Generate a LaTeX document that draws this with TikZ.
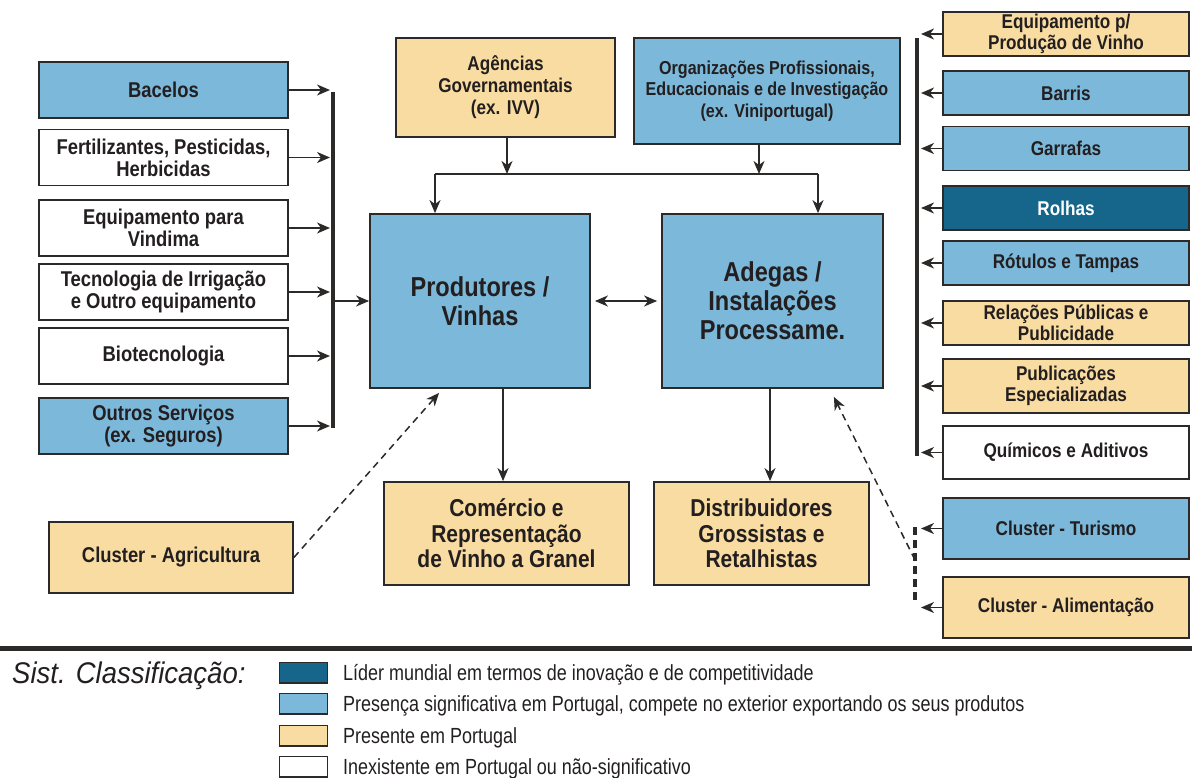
\documentclass[tikz,border=0pt]{standalone}
\usepackage{fontspec}
\setmainfont{Liberation Sans}[FakeStretch=0.86]
\newfontfamily\keyfont{Liberation Sans}[FakeStretch=0.82]
\newfontfamily\titlefont{Liberation Sans}[FakeStretch=0.92]
\usetikzlibrary{arrows.meta}

\definecolor{cLeader}{HTML}{15668A}
\definecolor{cStrong}{HTML}{7BB8DA}
\definecolor{cPresent}{HTML}{F9DCA1}
\definecolor{cEdge}{HTML}{2B2A29}
\definecolor{cInk}{HTML}{231F20}

\begin{document}
\begin{tikzpicture}[x=1bp, y=-1bp,
  >={Stealth[length=13bp,width=11bp,inset=4bp]},
  box/.style = {rectangle, draw=cEdge, line width=1.8bp, inner sep=0pt,
    align=center, text=cInk, font=\bfseries\fontsize{20}{21.5}\selectfont},
  lbox/.style = {box, minimum width=249bp, minimum height=56bp,
    font=\bfseries\fontsize{21.5}{22}\selectfont},
  rbox/.style = {box, minimum width=246bp, minimum height=44bp},
  core/.style = {box, strong, minimum width=220bp, minimum height=174bp,
    font=\bfseries\fontsize{27.5}{29}\selectfont},
  outlet/.style = {box, present, minimum height=103bp,
    font=\bfseries\fontsize{24.5}{25.5}\selectfont},
  lead/.style = {fill=cLeader, text=white},
  strong/.style = {fill=cStrong},
  present/.style = {fill=cPresent},
  absent/.style = {fill=white},
  link/.style = {draw=cEdge, line width=1.5bp},
  bar/.style = {draw=cEdge, line width=3.5bp},
  hint/.style = {link, dash pattern=on 7bp off 5bp},
  swatch/.style = {rectangle, draw=cEdge, line width=1.5bp, minimum width=48bp,
    minimum height=20.5bp, inner sep=0pt},
  keytext/.style = {anchor=base west, inner sep=0pt, text=cInk,
    font=\keyfont\fontsize{22}{24}\selectfont}]
  \useasboundingbox (0,0) rectangle (1192,778);

  % suppliers on the left
  \node [lbox, strong] (Bac) at (163.5,90) {Bacelos};
  \node [lbox, absent] (Fert) at (163.5,157.5) {Fertilizantes, Pesticidas,\\Herbicidas};
  \node [lbox, absent] (Vind) at (163.5,228) {Equipamento para\\Vindima};
  \node [lbox, absent] (Irrig) at (163.5,292) {Tecnologia de Irrigação\\e Outro equipamento};
  \node [lbox, absent] (Biot) at (163.5,356) {Biotecnologia};
  \node [lbox, strong] (Outr) at (163.5,426) {Outros Serviços\\(ex. Seguros)};

  % institutions
  \node [box, present, minimum width=219bp, minimum height=99bp,
  font=\bfseries\fontsize{20}{22}\selectfont] (Agen) at (505.5,87.5)
  {Agências\\Governamentais\\(ex. IVV)};
  \node [box, strong, minimum width=266bp, minimum height=106bp,
  font=\bfseries\fontsize{18.8}{21.5}\selectfont] (Org) at (767,91)
  {Organizações Profissionais,\\Educacionais e de Investigação\\(ex. Viniportugal)};

  % core of the cluster
  \node [core] (PV) at (480,301) {Produtores /\\Vinhas};
  \node [core, minimum width=221bp] (AIP) at (772.5,301) {Adegas /\\Instalações\\Processame.};
  \node [outlet, minimum width=245bp] (Com) at (506.5,533.5)
  {Comércio e\\Representação\\de Vinho a Granel};
  \node [outlet, minimum width=215bp] (Dist) at (761.5,533.5)
  {Distribuidores\\Grossistas e\\Retalhistas};
  \node [box, present, minimum width=244bp, minimum height=71bp,
  font=\bfseries\fontsize{21.5}{22}\selectfont] (CA) at (171,557.5) {Cluster - Agricultura};

  % suppliers on the right
  \node [rbox, present] (Equip) at (1066,34) {Equipamento p/\\Produção de Vinho};
  \node [rbox, strong] (Barr) at (1066,93) {Barris};
  \node [rbox, strong] (Garr) at (1066,148.5) {Garrafas};
  \node [rbox, lead] (Rolh) at (1066,208) {Rolhas};
  \node [rbox, strong] (Rot) at (1066,263) {Rótulos e Tampas};
  \node [rbox, present] (Rel) at (1066,323) {Relações Públicas e\\Publicidade};
  \node [rbox, present, minimum height=54bp] (Pub) at (1066,386) {Publicações\\Especializadas};
  \node [rbox, absent, minimum height=53bp] (Quim) at (1066,452.5) {Químicos e Aditivos};
  \node [rbox, strong, minimum height=61bp] (CT) at (1066,528.5) {Cluster - Turismo};
  \node [rbox, present, minimum height=61bp] (CAl) at (1066,607.5) {Cluster - Alimentação};

  % left collector
  \coordinate (ltop) at (333,92);
  \coordinate (lbot) at (333,428);
  \coordinate (lmid) at (333,301);
  \coordinate (lbar) at (330,0);
  \draw [bar] (ltop) -- (lbot);
  \foreach \n in {Bac,Fert,Vind,Irrig,Biot,Outr}
    \draw [link, ->] (\n) -- (\n -| lbar);
  \draw [link, ->] (lmid) -- (PV.west);

  % right collector
  \coordinate (rtop) at (917,38);
  \coordinate (rbot) at (917,456);
  \coordinate (rbar) at (921,0);
  \coordinate (ctop) at (915,527);
  \coordinate (cbot) at (915,604);
  \coordinate (cmid) at (915,560);
  \draw [bar] (rtop) -- (rbot);
  \draw [bar, dash pattern=on 8bp off 5bp] (ctop) -- (cbot);
  \foreach \n in {Equip,Barr,Garr,Rolh,Rot,Rel,Pub,Quim,CT,CAl}
    \draw [link, ->] (\n) -- (\n -| rbar);

  % institutions feed the core
  \coordinate (hubL) at (435,174);
  \coordinate (hubR) at (818,174);
  \draw [link] (hubL) -- (hubR);
  \draw [link, ->] ([xshift=1.5bp]Agen.south) -- ([xshift=1.5bp]Agen.south |- hubL);
  \draw [link, ->] ([xshift=-8bp]Org.south) -- ([xshift=-8bp]Org.south |- hubL);
  \draw [link, ->] (hubL) -- (hubL |- PV.north);
  \draw [link, ->] (hubR) -- (hubR |- AIP.north);
  \draw [link, <->, shorten <=4bp, shorten >=4bp] (PV) -- (AIP);

  \draw [link, ->] ([xshift=23bp]PV.south) -- ([xshift=23bp]PV.south |- Com.north);
  \draw [link, ->] ([xshift=-2.5bp]AIP.south) -- ([xshift=-2.5bp]AIP.south |- Dist.north);

  % related clusters
  \draw [hint, ->] (CA.east) -- ([xshift=70bp,yshift=-4bp]PV.south west);
  \draw [hint, ->] (cmid) -- ([xshift=-50bp,yshift=-8bp]AIP.south east);

  % legend
  \coordinate (rl) at (0,648);
  \coordinate (rr) at (1192,648);
  \draw [line width=5bp, cEdge] (rl) -- (rr);
  \node [anchor=base west, inner sep=0pt, text=cInk,
  font=\titlefont\itshape\fontsize{30}{32}\selectfont] (SC) at (12,683) {Sist. Classificação:};
  \node [swatch, fill=cLeader] (K1) at (303.5,672.5) {};
  \node [swatch, fill=cStrong] (K2) at (303.5,703.5) {};
  \node [swatch, fill=cPresent] (K3) at (303.5,735.5) {};
  \node [swatch, fill=white] (K4) at (303.5,766.5) {};
  \node [keytext] (T1) at (343,680) {Líder mundial em termos de inovação e de competitividade};
  \node [keytext] (T2) at (343,711) {Presença significativa em Portugal, compete no exterior exportando os seus produtos};
  \node [keytext] (T3) at (343,743) {Presente em Portugal};
  \node [keytext] (T4) at (343,774) {Inexistente em Portugal ou não-significativo};
\end{tikzpicture}
\end{document}
